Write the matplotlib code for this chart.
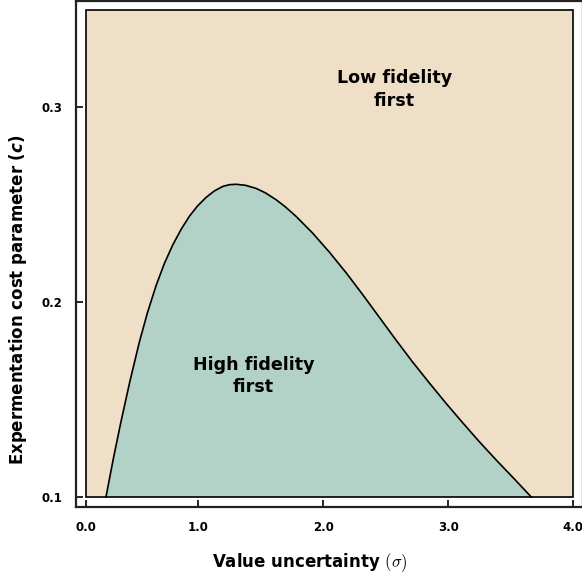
import numpy as np
import matplotlib.pyplot as plt
from matplotlib.patches import Rectangle

# boundary between the two regions, c as a function of sigma
sigma = [0.260, 0.319, 0.379, 0.451, 0.527, 0.591, 0.661, 0.727, 0.794,
         0.860, 0.928, 0.992, 1.062, 1.128, 1.195, 1.248, 1.302, 1.376,
         1.462, 1.537, 1.622, 1.697, 1.783, 1.913, 2.049, 2.186, 2.316,
         2.450, 2.584, 2.715, 2.851, 2.987, 3.118, 3.251, 3.385, 3.524,
         3.666]
cost = [0.1000, 0.1197, 0.1383, 0.1592, 0.1794, 0.1943, 0.2084, 0.2197,
        0.2292, 0.2371, 0.2440, 0.2492, 0.2537, 0.2570, 0.2593, 0.2602,
        0.2604, 0.2599, 0.2583, 0.2560, 0.2525, 0.2488, 0.2439, 0.2355,
        0.2256, 0.2148, 0.2038, 0.1921, 0.1804, 0.1693, 0.1584, 0.1478,
        0.1380, 0.1283, 0.1190, 0.1097, 0.1000]

x_ticks = [0.1, 1.0, 2.0, 3.0, 4.0]
x_labels = ['0.0', '1.0', '2.0', '3.0', '4.0']
y_ticks = [0.1, 0.2, 0.3]
y_labels = ['0.1', '0.2', '0.3']

x_min, x_max = 0.1, 4.0
c_min, c_max = 0.1, 0.35

tan = '#EEDFC6'
green = '#B2D1C7'

plt.rcParams['font.family'] = 'DejaVu Sans'
plt.rcParams['mathtext.fontset'] = 'cm'

fig = plt.figure(figsize=(5.82, 5.80), dpi=100)
ax = fig.add_axes([76 / 582, 73 / 580, 507 / 582, 506 / 580])

ax.add_patch(Rectangle((x_min, c_min), x_max - x_min, c_max - c_min,
                       facecolor=tan, edgecolor='none', zorder=1))
ax.fill_between(sigma, c_min, cost, facecolor=green, edgecolor='none', zorder=2)
ax.plot(sigma, cost, color='black', lw=1.2, zorder=3, solid_joinstyle='round')
ax.add_patch(Rectangle((x_min, c_min), x_max - x_min, c_max - c_min,
                       facecolor='none', edgecolor='black', lw=1.2, zorder=4))

ax.text(2.57, 0.309, 'Low fidelity\nfirst', ha='center', va='center',
        fontsize=12.6, fontweight='bold', linespacing=1.3)
ax.text(1.44, 0.162, 'High fidelity\nfirst', ha='center', va='center',
        fontsize=12.6, fontweight='bold', linespacing=1.3)

ax.set_xlim(0.02, 4.08)
ax.set_ylim(0.0949, 0.3544)
ax.set_xticks(x_ticks, x_labels)
ax.set_yticks(y_ticks, y_labels)
ax.tick_params(direction='in', length=5, width=1.2, labelsize=8.5, pad=10,
               top=False, right=False)
for lbl in ax.get_xticklabels() + ax.get_yticklabels():
    lbl.set_fontweight('bold')
for s in ax.spines.values():
    s.set_linewidth(1.6)
    s.set_color('#222222')

ax.set_xlabel(r'Value uncertainty $(\sigma)$', fontsize=12, fontweight='bold')
ax.set_ylabel(r'Expermentation cost parameter ($\mathbfit{c}$)', fontsize=12,
              fontweight='bold', math_fontfamily='dejavusans')
ax.xaxis.label.set_va('center')
ax.yaxis.label.set_va('center')
ax.xaxis.set_label_coords(0.462, -0.109)
ax.yaxis.set_label_coords(-0.114, 0.409)

fig.savefig('out.png', dpi=100)
